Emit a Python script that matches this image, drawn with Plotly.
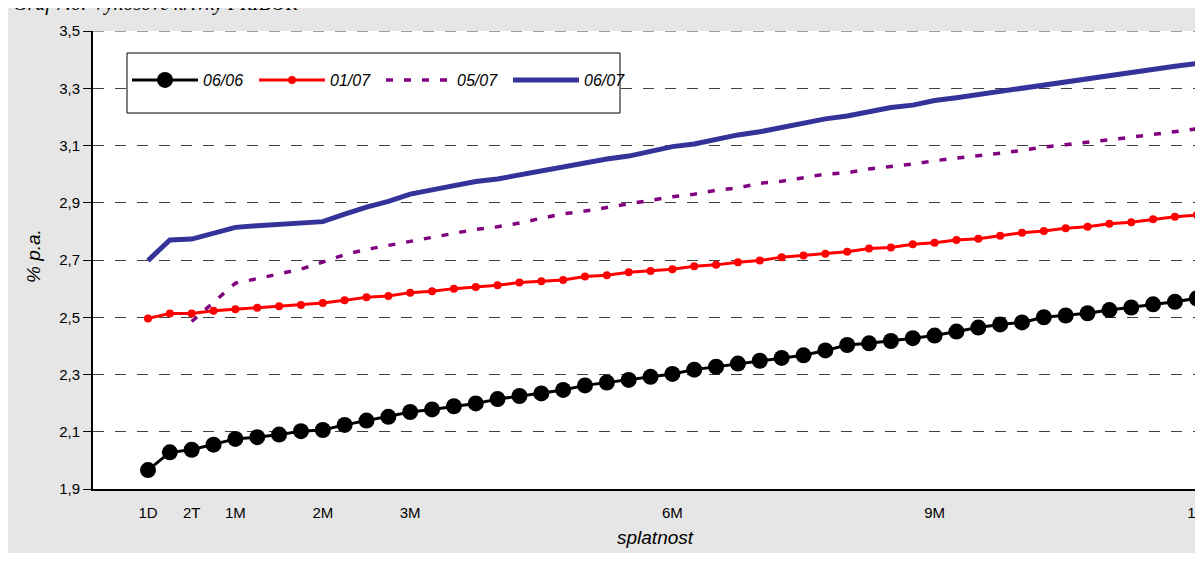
import plotly.graph_objects as go

# ---- data ----
maturity_index = list(range(49))
tick_positions = [0, 2, 4, 8, 12, 24, 36, 48]
tick_labels = ["1D", "2T", "1M", "2M", "3M", "6M", "9M", "1R"]

s_0606 = [1.966, 2.028, 2.037, 2.055, 2.075, 2.081, 2.090, 2.102, 2.106, 2.124,
          2.139, 2.152, 2.169, 2.178, 2.189, 2.199, 2.214, 2.225, 2.234, 2.246,
          2.262, 2.272, 2.281, 2.292, 2.302, 2.317, 2.327, 2.338, 2.348, 2.358,
          2.367, 2.384, 2.403, 2.409, 2.417, 2.427, 2.436, 2.450, 2.464, 2.475,
          2.482, 2.500, 2.506, 2.514, 2.525, 2.534, 2.545, 2.554, 2.566]
s_0107 = [2.496, 2.513, 2.513, 2.523, 2.528, 2.533, 2.538, 2.543, 2.550, 2.559,
          2.570, 2.574, 2.586, 2.591, 2.600, 2.606, 2.612, 2.621, 2.626, 2.630,
          2.642, 2.647, 2.657, 2.662, 2.668, 2.678, 2.683, 2.692, 2.698, 2.710,
          2.716, 2.722, 2.729, 2.740, 2.744, 2.755, 2.760, 2.770, 2.774, 2.785,
          2.795, 2.801, 2.811, 2.816, 2.827, 2.832, 2.842, 2.851, 2.857]
s_0507 = [None, None, 2.485, 2.553, 2.619, 2.635, 2.650, 2.668, 2.693, 2.719,
          2.737, 2.751, 2.767, 2.780, 2.793, 2.807, 2.816, 2.829, 2.846, 2.861,
          2.871, 2.884, 2.896, 2.907, 2.921, 2.930, 2.944, 2.952, 2.968, 2.975,
          2.989, 3.000, 3.005, 3.018, 3.027, 3.035, 3.047, 3.055, 3.063, 3.073,
          3.083, 3.095, 3.103, 3.110, 3.120, 3.129, 3.138, 3.150, 3.158]
s_0607 = [2.698, 2.770, 2.773, 2.793, 2.814, 2.820, 2.825, 2.829, 2.834, 2.860,
          2.885, 2.905, 2.930, 2.945, 2.959, 2.974, 2.983, 2.997, 3.012, 3.023,
          3.038, 3.053, 3.063, 3.078, 3.096, 3.105, 3.122, 3.137, 3.148, 3.163,
          3.178, 3.193, 3.203, 3.219, 3.233, 3.241, 3.257, 3.267, 3.278, 3.290,
          3.302, 3.315, 3.326, 3.337, 3.347, 3.358, 3.368, 3.377, 3.386]

fig = go.Figure()
fig.add_trace(go.Scatter(x=maturity_index, y=s_0606, name="06/06", mode="lines+markers",
                         line=dict(color="#000000", width=3),
                         marker=dict(size=16, color="#000000")))
fig.add_trace(go.Scatter(x=maturity_index, y=s_0107, name="01/07", mode="lines+markers",
                         line=dict(color="#FF0000", width=3),
                         marker=dict(size=8, color="#FF0000")))
fig.add_trace(go.Scatter(x=maturity_index, y=s_0507, name="05/07", mode="lines",
                         line=dict(color="#800080", width=3.5, dash="7px,11px")))
fig.add_trace(go.Scatter(x=maturity_index, y=s_0607, name="06/07", mode="lines",
                         line=dict(color="#333399", width=5)))

W, H = 1203, 545
L, R, T, B = 85, 0, 23, 64
pw, ph = W - L - R, H - T - B


def px(x):
    return (x - L) / pw


def py(y):
    return (H - B - y) / ph


fig.update_layout(
    width=W, height=H, autosize=False,
    margin=dict(l=L, r=R, t=T, b=B, pad=0),
    paper_bgcolor="#e6e6e6",
    plot_bgcolor="#ffffff",
    separators=", ",
    font=dict(family="Liberation Sans, Arial, sans-serif", size=15, color="#000000"),
    showlegend=True,
    legend=dict(orientation="h", x=px(119), y=py(72), xanchor="left", yanchor="middle",
                bgcolor="rgba(0,0,0,0)", borderwidth=0,
                font=dict(size=16, style="italic"),
                entrywidth=46, entrywidthmode="pixels", itemwidth=66),
    xaxis=dict(range=[-2.517, 48.65], tickmode="array", tickvals=tick_positions,
               ticktext=tick_labels, showgrid=False, zeroline=False,
               showline=True, linecolor="#000000", linewidth=2, ticks="",
               ticklabelstandoff=9, ticklabeloverflow="allow",
               tickfont=dict(size=15)),
    yaxis=dict(range=[1.9, 3.5], tick0=1.9, dtick=0.2, tickformat=".1f",
               showgrid=True, gridcolor="#404040", gridwidth=1, griddash="11px,11px",
               zeroline=False, showline=True, linecolor="#000000", linewidth=2,
               ticks="outside", ticklen=8, tickcolor="#000000", tickwidth=1,
               tickfont=dict(size=15)),
    shapes=[
        # top dashed grid line at 3.5
        dict(type="line", xref="paper", yref="y", x0=0, x1=1, y0=3.5, y1=3.5,
             line=dict(color="#404040", width=1, dash="11px,11px"), layer="above"),
        # legend box
        dict(type="rect", xref="paper", yref="paper", x0=px(119), x1=px(612),
             y0=py(105), y1=py(45), fillcolor="#ffffff",
             line=dict(color="#000000", width=1), layer="above"),
    ],
    annotations=[
        dict(text="Graf 7.6: Výnosové křivky PRIBOR", xref="paper", yref="paper",
             x=px(3), y=py(9), xanchor="left", yanchor="bottom", showarrow=False,
             font=dict(family="Liberation Serif, Times New Roman, serif", size=20,
                       style="italic", color="#000000")),
        dict(text="splatnost", xref="paper", yref="paper", x=px(647), y=py(529),
             xanchor="center", yanchor="middle", showarrow=False,
             font=dict(size=19, style="italic")),
        dict(text="% p.a.", xref="paper", yref="paper", x=px(25), y=py(248),
             xanchor="center", yanchor="middle", showarrow=False, textangle=-90,
             font=dict(size=19, style="italic")),
    ],
)

fig.write_html(
    "out.html",
    post_script="document.documentElement.style.overflow='hidden';"
                "document.body.style.overflow='hidden';",
)
